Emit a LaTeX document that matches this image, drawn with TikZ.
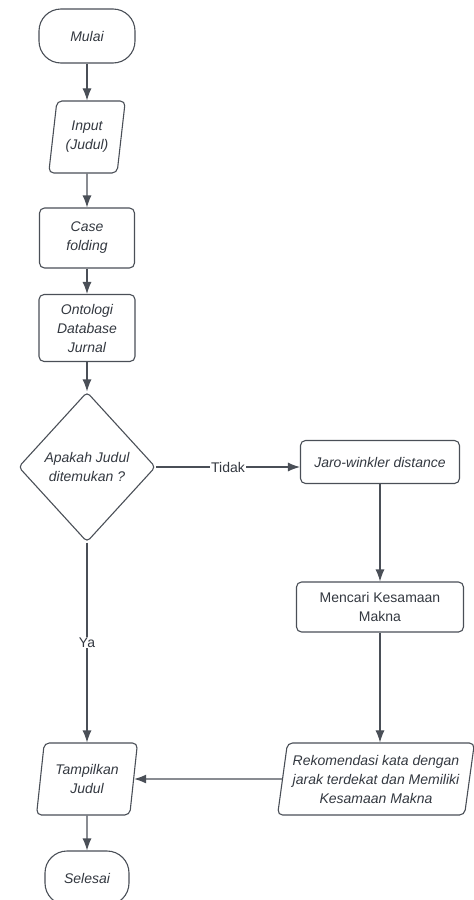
\documentclass[tikz,border=0pt]{standalone}
\usepackage{fontspec}
\setmainfont{Liberation Sans}
\usepackage{tikz}
\usetikzlibrary{arrows.meta,shapes.geometric}
\definecolor{garis}{HTML}{4A4F57}
\definecolor{teks}{HTML}{333840}
\newcommand{\flowfont}{\fontsize{14}{19}\selectfont}

\begin{document}
\begin{tikzpicture}[x=1pt,y=-1pt,->,>={Latex[length=12pt,width=9pt]},
      line width=1.1pt,color=garis,text=teks,align=center,
      terminal/.style={draw,rounded corners=22pt,minimum width=96pt,minimum height=54pt,font=\flowfont\itshape},
      proses/.style={draw,rounded corners=5pt,font=\flowfont\itshape},
      io/.style={draw,trapezium,trapezium left angle=80,trapezium right angle=100,
        trapezium stretches=true,rounded corners=5pt,minimum height=72pt,font=\flowfont\itshape},
      keputusan/.style={draw,diamond,inner sep=0pt,rounded corners=4pt,minimum width=137pt,
        minimum height=150pt,font=\flowfont\itshape}]

      \useasboundingbox (0,0) rectangle (474,900);
      \clip (0,0) rectangle (474,900);

      \node[terminal] (mulai) at (87,36) {Mulai};
      \node[io,minimum width=77pt] (input) [below of=mulai,node distance=101pt] {Input\\(Judul)};
      \node[proses,minimum width=95pt,minimum height=60pt] (case) [below of=input,node distance=101pt] {Case\\folding};
      \node[proses,minimum width=96pt,minimum height=67pt] (onto) [below of=case,node distance=90pt] {Ontologi\\Database\\Jurnal};
      \node[keputusan] (cek) [below of=onto,node distance=139pt] {Apakah Judul\\ditemukan ?};
      \node[proses,minimum width=159pt,minimum height=43pt] (jaro) [right of=cek,node distance=293pt,yshift=5pt] {Jaro-winkler distance};
      \node[proses,font=\flowfont,minimum width=167pt,minimum height=50pt] (makna) [below of=jaro,node distance=145pt] {Mencari Kesamaan\\Makna};
      \node[io,minimum width=197pt] (rekom) [below of=makna,node distance=172pt,xshift=-4pt] {Rekomendasi kata dengan\\jarak terdekat dan Memiliki\\Kesamaan Makna};
      \node[io,minimum width=101pt] (tampil) [below of=cek,node distance=312pt] {Tampilkan\\Judul};
      \node[terminal,minimum width=84pt] (selesai) [below of=tampil,node distance=99pt] {Selesai};

      \path[every node/.style={fill=white,font=\flowfont,inner sep=1pt}]
      (mulai) edge (input)
      (input) edge (case)
      (case) edge (onto)
      (onto) edge (cek)
      (cek.east) edge node {Tidak} (cek.east -| jaro.west)
      (cek) edge node {Ya} (tampil)
      (jaro) edge (makna)
      (makna) edge (makna.south |- rekom.north)
      (rekom) edge (tampil)
      (tampil) edge (selesai);
    \end{tikzpicture}
\end{document}
